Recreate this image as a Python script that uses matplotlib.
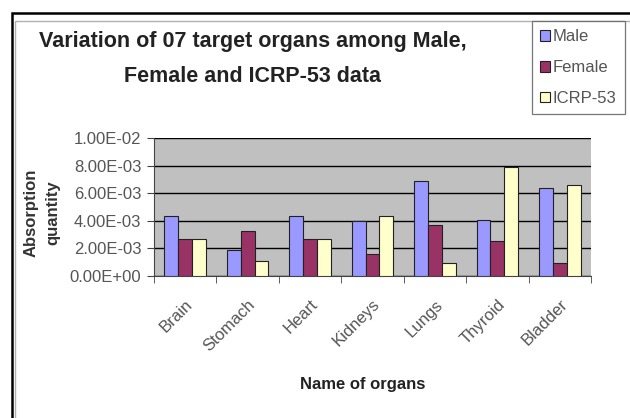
#!/usr/bin/env python

import matplotlib
matplotlib.use( "Agg" )
import matplotlib.pyplot as plt
import matplotlib.patches as patches
import matplotlib.transforms as mtransforms
import numpy

organs = ["Brain", "Stomach", "Heart", "Kidneys", "Lungs", "Thyroid", "Bladder"]
male = [4.38e-3, 1.85e-3, 4.38e-3, 3.96e-3, 6.88e-3, 4.06e-3, 6.40e-3]
female = [2.68e-3, 3.23e-3, 2.68e-3, 1.60e-3, 3.67e-3, 2.53e-3, 0.97e-3]
icrp = [2.68e-3, 1.12e-3, 2.68e-3, 4.33e-3, 0.97e-3, 7.90e-3, 6.57e-3]
y_ticks = [0.0, 2e-3, 4e-3, 6e-3, 8e-3, 1e-2]
y_tick_labels = ["0.00E+00", "2.00E-03", "4.00E-03", "6.00E-03", "8.00E-03", "1.00E-02"]

plt.rcParams['font.family'] = ['Liberation Sans', 'DejaVu Sans']

W, H = 630, 418
fig = plt.figure( figsize=(W / 100, H / 100), dpi=100 )
fig.patch.set_facecolor( "white" )

# outer frame like the pasted excel chart
fig.add_artist( patches.Rectangle( (12/W, -0.05), 1.0, 1 - 13/H + 0.05, transform=fig.transFigure,
    fill=False, edgecolor="black", linewidth=1.8 ) )
fig.add_artist( patches.Rectangle( (15/W, -0.05), 1.0, 1 - 21/H + 0.05, transform=fig.transFigure,
    fill=False, edgecolor="#b0b0b0", linewidth=1.0 ) )

ax = fig.add_axes( [154/W, 1 - 276/H, (591 - 154)/W, (276 - 138)/H] )
ax.set_facecolor( "#c0c0c0" )

x = numpy.arange( len( organs ) )
width = 1 / 4.5
series = [(male, "#9999ff", "Male"), (female, "#993366", "Female"), (icrp, "#ffffcc", "ICRP-53")]
for i, (values, color, label) in enumerate( series ):
    ax.bar( x + (i - 1) * width, values, width, color=color, edgecolor="#222222", linewidth=0.8,
        label=label, zorder=3 )

ax.set_xlim( -0.5, len( organs ) - 0.5 )
ax.set_ylim( 0, 0.01 )
ax.set_yticks( y_ticks )
ax.set_yticklabels( y_tick_labels, fontsize=12, color="#555555" )
ax.yaxis.grid( True, color="black", linewidth=1.0, zorder=1 )
ax.set_axisbelow( True )

ax.set_xticks( x )
ax.set_xticklabels( organs, rotation=45, ha="right", va="top", rotation_mode="anchor",
    fontsize=12, color="#555555" )
shift = mtransforms.ScaledTranslation( -6 / 100, 0, fig.dpi_scale_trans )
for lbl in ax.get_xticklabels():
    lbl.set_transform( lbl.get_transform() + shift )
ax.tick_params( axis="x", length=0, pad=15 )
ax.set_xticks( numpy.arange( -0.5, len( organs ), 1 ), minor=True )
ax.tick_params( axis="x", which="minor", length=5, direction="out", color="#444444" )
ax.tick_params( axis="y", length=5, direction="out", color="#444444", pad=4 )

for side in ("top", "right"):
    ax.spines[side].set_visible( False )
ax.spines["left"].set_color( "#444444" )
ax.spines["bottom"].set_color( "#444444" )

fig.text( 363/W, 1 - 385/H, "Name of organs", ha="center", va="center",
    fontsize=12, fontweight="bold", color="#222222" )
fig.text( 42/W, 1 - 213/H, "Absorption\nquantity", ha="center", va="center", rotation=90,
    fontsize=12, fontweight="bold", color="#333333", linespacing=1.55, multialignment="center" )

fig.text( 253/W, 1 - 42/H, "Variation of 07 target organs among Male,", ha="center", va="center",
    fontsize=15.5, fontweight="bold", color="#222222" )
fig.text( 253/W, 1 - 76/H, "Female and ICRP-53 data", ha="center", va="center",
    fontsize=15.5, fontweight="bold", color="#222222" )

leg = fig.legend( loc="upper left", bbox_to_anchor=(532/W, 1 - 21/H), frameon=True, fontsize=12,
    handlelength=0.6, handleheight=0.6, handletextpad=0.15, borderpad=0.5, labelspacing=0.95,
    fancybox=False, borderaxespad=0, labelcolor="#555555" )
leg.get_frame().set_edgecolor( "#555555" )
leg.get_frame().set_linewidth( 0.9 )

fig.savefig( "out.png", dpi=100 )
